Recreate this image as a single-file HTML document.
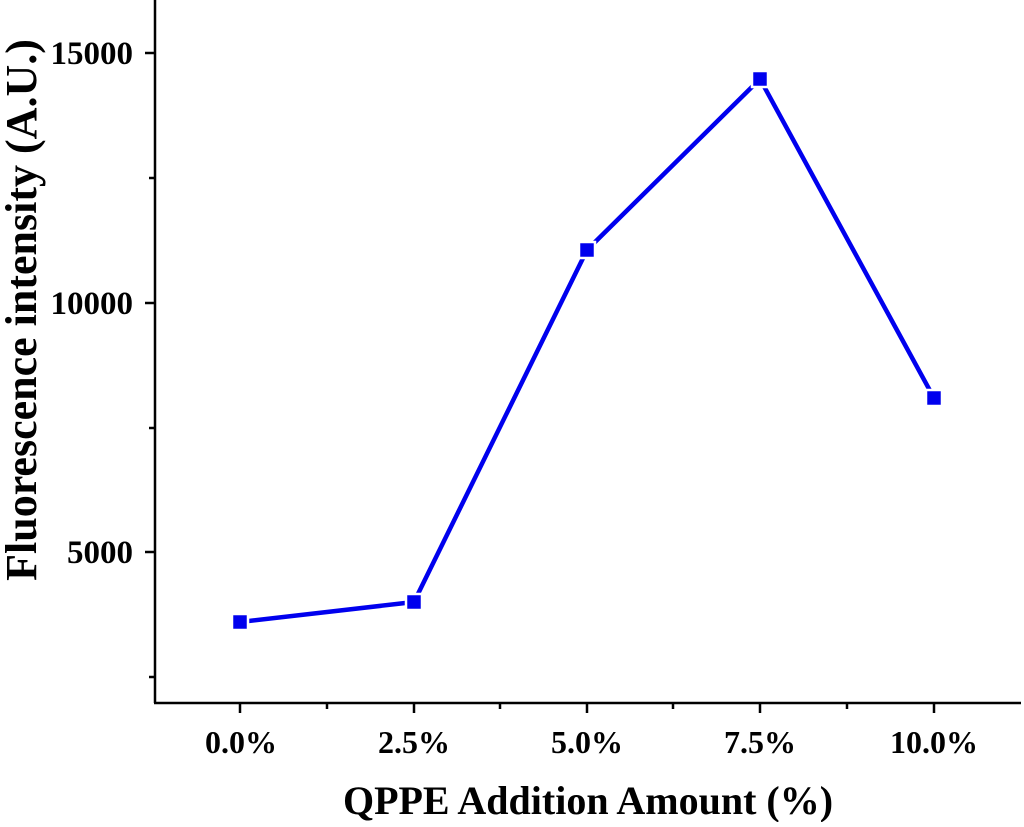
<!DOCTYPE html>
<html><head><style>body{margin:0;background:#fff}</style></head><body>
<svg width="1024" height="822" xmlns="http://www.w3.org/2000/svg" font-family="Liberation Serif, serif" font-weight="bold">
<g stroke="#000" stroke-width="2.5" fill="none">
<line x1="155" y1="0" x2="155" y2="703"/>
<line x1="154" y1="703" x2="1021" y2="703"/>
<line x1="145" y1="53" x2="155" y2="53"/><line x1="145" y1="303" x2="155" y2="303"/><line x1="145" y1="552" x2="155" y2="552"/>
<line x1="149" y1="178" x2="155" y2="178"/><line x1="149" y1="428" x2="155" y2="428"/><line x1="149" y1="677" x2="155" y2="677"/>
<line x1="240" y1="703" x2="240" y2="713"/><line x1="414" y1="703" x2="414" y2="713"/><line x1="587" y1="703" x2="587" y2="713"/><line x1="760" y1="703" x2="760" y2="713"/><line x1="934" y1="703" x2="934" y2="713"/>
<line x1="327" y1="703" x2="327" y2="709"/><line x1="500" y1="703" x2="500" y2="709"/><line x1="673" y1="703" x2="673" y2="709"/><line x1="847" y1="703" x2="847" y2="709"/>
</g>
<g font-size="33" text-anchor="end">
<text x="133" y="64">15000</text><text x="133" y="314">10000</text><text x="133" y="563">5000</text>
</g>
<g font-size="32" text-anchor="middle">
<text x="241" y="753">0.0%</text><text x="414" y="753">2.5%</text><text x="587" y="753">5.0%</text><text x="760" y="753">7.5%</text><text x="934" y="753">10.0%</text>
</g>
<text x="588" y="814" font-size="40" text-anchor="middle">QPPE Addition Amount (%)</text>
<text transform="translate(36,310) rotate(-90)" font-size="44" text-anchor="middle">Fluorescence intensity (A.U.)</text>
<polyline points="240,622 414,602 587,250 760,79 934,398" fill="none" stroke="#0000ee" stroke-width="4.5"/>
<g fill="#0000ee" stroke="#fff" stroke-width="2.5">
<rect x="232" y="614" width="16" height="16"/><rect x="406" y="594" width="16" height="16"/><rect x="579" y="242" width="16" height="16"/><rect x="752" y="71" width="16" height="16"/><rect x="926" y="390" width="16" height="16"/>
</g>
</svg>
</body></html>
